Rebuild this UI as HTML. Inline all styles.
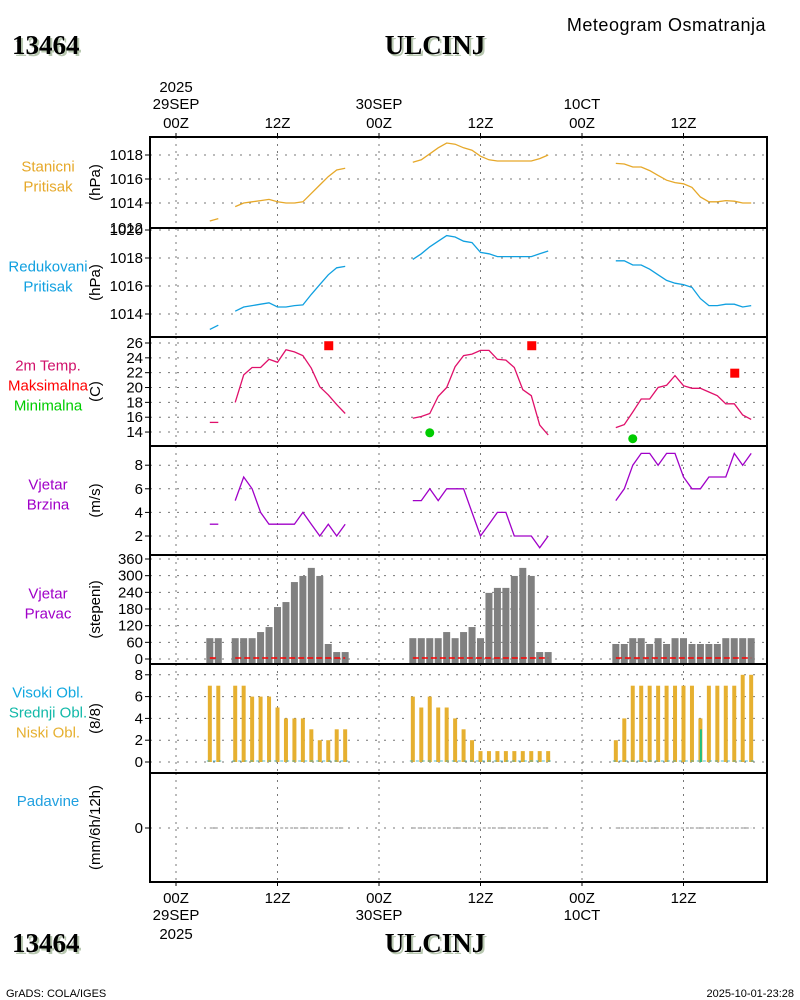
<!DOCTYPE html>
<html><head><meta charset="utf-8"><title>Meteogram ULCINJ</title>
<style>
body{margin:0;background:#fff;}
svg{display:block;font-family:"Liberation Sans",sans-serif;}
.t{font-size:15px;}
.ttl{font-family:"Liberation Serif",serif;font-weight:bold;font-size:27px;}
</style></head>
<body>
<svg id="chart" width="800" height="1000" viewBox="0 0 800 1000" xmlns="http://www.w3.org/2000/svg">
  <rect x="0" y="0" width="800" height="1000" fill="#fff"/>
  <g>
    <text x="14" y="56" class="ttl" fill="#b8c8b0">13464</text>
    <text x="12" y="54" class="ttl" fill="#000">13464</text>
    <text x="437" y="56" class="ttl" fill="#b8c8b0" text-anchor="middle">ULCINJ</text>
    <text x="435" y="54" class="ttl" fill="#000" text-anchor="middle">ULCINJ</text>
    <text x="766" y="31" font-size="18" text-anchor="end" letter-spacing="0.5">Meteogram Osmatranja</text>
  </g>
  <g>
    <text x="14" y="954" class="ttl" fill="#b8c8b0">13464</text>
    <text x="12" y="952" class="ttl" fill="#000">13464</text>
    <text x="437" y="954" class="ttl" fill="#b8c8b0" text-anchor="middle">ULCINJ</text>
    <text x="435" y="952" class="ttl" fill="#000" text-anchor="middle">ULCINJ</text>
    <text x="6" y="997" font-size="11">GrADS: COLA/IGES</text>
    <text x="794" y="997" font-size="11" text-anchor="end">2025-10-01-23:28</text>
  </g>
  <g id="plot"></g>
</svg>
<script>
const hours = [4,5,7,8,9,10,11,12,13,14,15,16,17,18,19,20,
  28,29,30,31,32,33,34,35,36,37,38,39,40,41,42,43,44,
  52,53,54,55,56,57,58,59,60,61,62,63,64,65,66,67,68];
const stationPressure = [1012.5,1012.7,1013.7,1014.0,1014.1,1014.2,1014.3,1014.1,1014.0,1014.0,1014.1,1014.8,1015.5,1016.2,1016.75,1016.9,
  1017.4,1017.6,1018.1,1018.6,1019.0,1018.9,1018.6,1018.4,1017.9,1017.6,1017.5,1017.5,1017.5,1017.5,1017.5,1017.7,1018.0,
  1017.3,1017.25,1017.0,1017.0,1016.7,1016.3,1015.9,1015.7,1015.6,1015.3,1014.5,1014.1,1014.1,1014.2,1014.15,1014.0,1014.0];
const seaPressure = [1012.9,1013.2,1014.2,1014.5,1014.6,1014.7,1014.8,1014.5,1014.5,1014.6,1014.65,1015.4,1016.1,1016.8,1017.3,1017.4,
  1017.9,1018.3,1018.8,1019.2,1019.6,1019.5,1019.2,1019.1,1018.4,1018.3,1018.1,1018.1,1018.1,1018.1,1018.1,1018.3,1018.5,
  1017.8,1017.8,1017.5,1017.5,1017.2,1016.8,1016.4,1016.2,1016.1,1015.9,1015.1,1014.6,1014.6,1014.7,1014.7,1014.5,1014.6];
const temperature = [15.3,15.3,18.0,21.7,22.7,22.7,23.8,23.4,25.1,24.8,24.3,22.6,20.1,19.0,17.7,16.5,
  15.85,16.1,16.5,18.8,20.0,22.8,24.3,24.5,25.0,25.0,23.8,23.7,22.7,19.7,18.9,14.95,13.6,
  14.6,15.0,16.7,18.45,18.45,20.0,20.3,21.6,20.25,19.9,19.9,19.4,18.9,17.8,17.8,16.3,15.7];
const maxTempHours = [18,42,66];
const maxTempValues = [25.7,25.7,22.0];
const minTempHours = [30,54];
const minTempValues = [13.9,13.1];
const windSpeed = [3,3,5,7,6,4,3,3,3,3,4,3,2,3,2,3,
  5,5,6,5,6,6,6,4,2,3,4,4,2,2,2,1,2,
  5,6,8,9,9,8,9,9,7,6,6,7,7,7,9,8,9];
const windDir = [75,75,75,75,75,97,115,187,205,277,299,328,299,54,25,25,
  75,75,75,75,97,75,97,115,75,238,256,256,299,328,299,25,25,
  54,54,75,75,54,75,54,75,75,54,54,54,54,75,75,75,75];
const lowCloud = [7,7,7,7,6,6,6,5,4,4,4,3,2,2,3,3,
  6,5,6,5,5,4,3,2,1,1,1,1,1,1,1,1,1,
  2,4,7,7,7,7,7,7,7,7,4,7,7,7,7,8,8];
const midCloud = [0,0,0,0,0,0,0,0,0,0,0,0,0,0,0,0,
  0,0,0,0,0,0,0,0,0,0,0,0,0,0,0,0,0,
  0,0,0,0,0,0,0,0,0,0,3,0,0,0,0,0,0];
const precip = [0,0,0,0,0,0,0,0,0,0,0,0,0,0,0,0,
  0,0,0,0,0,0,0,0,0,0,0,0,0,0,0,0,0,
  0,0,0,0,0,0,0,0,0,0,0,0,0,0,0,0,0];
const psTicks = [1014,1016,1018];
const slpTicks = [1014,1016,1018,1020];
const tTicks = [14,16,18,20,22,24,26];
const wsTicks = [2,4,6,8];
const wdTicks = [0,60,120,180,240,300,360];
const clTicks = [0,2,4,6,8];
const prTicks = [0];
const timeTickHours = [0,12,24,36,48,60];
const timeTickLabels = ["00Z","12Z","00Z","12Z","00Z","12Z"];
const dateLabelHours = [0,24,48];
const dateLabels = ["29SEP","30SEP","1OCT"];

const NS = "http://www.w3.org/2000/svg";
const root = document.getElementById('plot');
const X0 = 150, X1 = 767;
const xH = h => 176 + h * 101.5 / 12;

function mk(tag, attrs, parent) {
  const e = document.createElementNS(NS, tag);
  for (const k in attrs) e.setAttribute(k, attrs[k]);
  (parent || root).appendChild(e);
  return e;
}
function txt(x, y, s, attrs, parent) {
  const a = Object.assign({x: x, y: y, class: 't', fill: '#000'}, attrs || {});
  a.style = 'fill:' + a.fill;
  const e = mk('text', a, parent);
  e.textContent = s;
  return e;
}

const panels = [
  {id:'station-pressure', top:137, bot:228, y:v=>155+(1018-v)*12, ticks:psTicks, unit:'(hPa)', labels:[['Stanicni','#e6a829'],['Pritisak','#e6a829']]},
  {id:'sea-level-pressure', top:228, bot:337, y:v=>258+(1018-v)*14, ticks:slpTicks, unit:'(hPa)', labels:[['Redukovani','#10a0e0'],['Pritisak','#10a0e0']]},
  {id:'temperature', top:337, bot:446, y:v=>343+(26-v)*7.42, ticks:tTicks, unit:'(C)', labels:[['2m Temp.','#d0106a'],['Maksimalna','#ff0000'],['Minimalna','#00cc00']]},
  {id:'wind-speed', top:446, bot:555, y:v=>536-(v-2)*11.8, ticks:wsTicks, unit:'(m/s)', labels:[['Vjetar','#a000c8'],['Brzina','#a000c8']]},
  {id:'wind-direction', top:555, bot:664, y:v=>659-v*100/360, ticks:wdTicks, unit:'(stepeni)', labels:[['Vjetar','#a000c8'],['Pravac','#a000c8']]},
  {id:'cloud-cover', top:664, bot:773, y:v=>762-v*10.9, ticks:clTicks, unit:'(8/8)', labels:[['Visoki Obl.','#10a8e0'],['Srednji Obl.','#10b8a8'],['Niski Obl.','#e6b030']]},
  {id:'precipitation', top:773, bot:882, y:v=>828-v*20, ticks:prTicks, unit:'(mm/6h/12h)', labels:[['Padavine','#20a0e0']]}
];

function segments(vals) {
  const segs = []; let cur = [];
  for (let i = 0; i < hours.length; i++) {
    if (i > 0 && hours[i] - hours[i-1] > 1) { segs.push(cur); cur = []; }
    cur.push([hours[i], vals[i]]);
  }
  segs.push(cur);
  return segs;
}

panels.forEach(p => {
  const g = mk('g', {});
  
  
  p.g = g;
  timeTickHours.forEach(h => {
    const l = mk('line', {x1:xH(h), x2:xH(h), y1:p.top, y2:p.bot, stroke:'#777', 'stroke-width':1, 'stroke-dasharray':'2,5'}, g);
    
    
  });
  p.ticks.forEach(v => {
    const y = p.y(v);
    const l = mk('line', {x1:X0, x2:X1, y1:y, y2:y, stroke:'#777', 'stroke-width':1, 'stroke-dasharray':'2,7'}, g);
    
    
    const tk = mk('line', {x1:X0-5, x2:X0, y1:y, y2:y, stroke:'#000', 'stroke-width':1}, g);
    
    
    const t = txt(X0-7, y+5, String(v), {'text-anchor':'end'}, g);
    
    
  });
  const cy = (p.top + p.bot) / 2;
  const u = txt(0, 0, p.unit, {'text-anchor':'middle', transform:'translate(100,' + cy + ') rotate(-90)'}, g);
  
  
  const n = p.labels.length;
  const startY = (p.id === 'precipitation') ? 806 : cy - (n - 1) * 10 - 1;
  p.labels.forEach((lb, i) => {
    const t = txt(48, startY + i * 20, lb[0], {'text-anchor':'middle', fill:lb[1]}, g);
    
    
  });
});

const extra = txt(143, 233, '1012', {'text-anchor':'end'});



function drawLine(p, vals, color, name) {
  segments(vals).forEach(seg => {
    const pts = seg.map(d => xH(d[0]).toFixed(1) + ',' + p.y(d[1]).toFixed(1)).join(' ');
    const pl = mk('polyline', {points:pts, fill:'none', stroke:color, 'stroke-width':1.3}, p.g);
    
    
  });
}
drawLine(panels[0], stationPressure, '#e6a829', 'station-pressure-line');
drawLine(panels[1], seaPressure, '#10a0e0', 'sea-level-pressure-line');
drawLine(panels[2], temperature, '#e0106a', 'temperature-line');
drawLine(panels[3], windSpeed, '#a000c8', 'wind-speed-line');

maxTempHours.forEach((h, i) => {
  const r = mk('rect', {x:xH(h)-4, y:panels[2].y(maxTempValues[i])-4, width:9, height:9, fill:'#ff0000'}, panels[2].g);
  
  
});
minTempHours.forEach((h, i) => {
  const c = mk('circle', {cx:xH(h), cy:panels[2].y(minTempValues[i]), r:4.5, fill:'#00cc00'}, panels[2].g);
  
  
});

const pd = panels[4];
hours.forEach((h, i) => {
  const y = pd.y(windDir[i]);
  const r = mk('rect', {x:xH(h)-3.5, y:y, width:7, height:pd.bot - y, fill:'#808080'}, pd.g);
  
  
});
segments(windDir).forEach(seg => {
  const l = mk('line', {x1:xH(seg[0][0]), x2:xH(seg[seg.length-1][0]), y1:658, y2:658, stroke:'#ff0000', 'stroke-width':1.5, 'stroke-dasharray':'6,3'}, pd.g);
  
  
});

const pc = panels[5];
hours.forEach((h, i) => {
  const y = pc.y(lowCloud[i]);
  const r = mk('rect', {x:xH(h)-2, y:y, width:4, height:pc.y(0) - y, fill:'#e6b030'}, pc.g);
  
  
  if (midCloud[i] > 0) {
    const ym = pc.y(midCloud[i]);
    const m = mk('rect', {x:xH(h)-0.5, y:ym, width:2, height:pc.y(0) - ym, fill:'#20c080'}, pc.g);
    
    
  }
});
segments(lowCloud).forEach(seg => {
  const l = mk('line', {x1:xH(seg[0][0])-3, x2:xH(seg[seg.length-1][0])+3, y1:761, y2:761, stroke:'#20a8c8', 'stroke-width':0.8, 'stroke-dasharray':'3,3'}, pc.g);
  
  
});

const pp = panels[6];
segments(precip).forEach(seg => {
  const pts = seg.map(d => xH(d[0]).toFixed(1) + ',' + pp.y(d[1]).toFixed(1)).join(' ');
  const l = mk('polyline', {points:pts, fill:'none', stroke:'#888', 'stroke-width':1, 'stroke-dasharray':'3,2'}, pp.g);
  
  
});

panels.forEach(p => {
  const f = mk('rect', {x:X0, y:p.top, width:X1 - X0, height:p.bot - p.top, fill:'none', stroke:'#000', 'stroke-width':2});
  
  
});

timeTickHours.forEach((h, i) => {
  const x = xH(h);
  const t1 = mk('line', {x1:x, x2:x, y1:133, y2:137, stroke:'#000', 'stroke-width':1});
  
  
  const t2 = mk('line', {x1:x, x2:x, y1:882, y2:886, stroke:'#000', 'stroke-width':1});
  
  
  const a = txt(x, 128, timeTickLabels[i], {'text-anchor':'middle'});
  
  
  const b = txt(x, 903, timeTickLabels[i], {'text-anchor':'middle'});
  
  
});
dateLabelHours.forEach((h, i) => {
  const x = xH(h);
  const s = dateLabels[i] === '1OCT' ? '10CT' : dateLabels[i];
  const a = txt(x, 109, s, {'text-anchor':'middle'});
  
  
  const b = txt(x, 920, s, {'text-anchor':'middle'});
  
  
});
const y1 = txt(xH(0), 92, '2025', {'text-anchor':'middle'});


const y2 = txt(xH(0), 939, '2025', {'text-anchor':'middle'});


</script>
</body></html>
